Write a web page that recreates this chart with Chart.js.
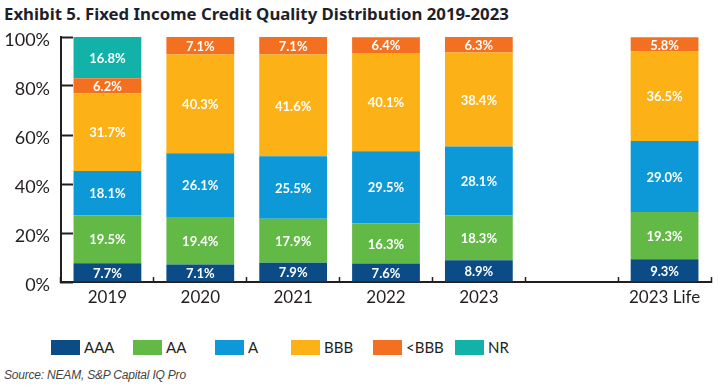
<!DOCTYPE html>
<html>
<head>
<meta charset="utf-8">
<script src="https://cdn.jsdelivr.net/npm/chart.js@4.4.1/dist/chart.umd.min.js"></script>
<style>
  body { margin: 0; background: #fff; font-family: Lato, 'Noto Sans', sans-serif; }
  #wrap { position: relative; width: 723px; height: 388px; overflow: hidden; }
  #title { position: absolute; left: 4px; top: 2px; font-family: 'Noto Sans', sans-serif; font-size: 16.8px; font-weight: bold; color: #1f1f2b; white-space: nowrap; }
  #chartBox { position: absolute; left: 0; top: 0; width: 723px; height: 320px; }
  #legend { position: absolute; left: 51px; top: 338px; display: flex; }
  .item { width: 82px; display: flex; align-items: center; font-size: 15px; color: #231f20; }
  .item:nth-child(3) { width: 76px; }
  .swatch { width: 29px; height: 15px; margin-right: 4px; }
  #source { position: absolute; left: 4px; top: 368px; font-family: 'Liberation Sans Narrow', sans-serif; font-size: 12px; letter-spacing: -0.2px; font-style: italic; color: #444; }
</style>
</head>
<body>
<div id="wrap">
  <div id="title">Exhibit 5. Fixed Income Credit Quality Distribution 2019-2023</div>
  <div id="chartBox"><canvas id="qualityChart"></canvas></div>
  <div id="legend"></div>
  <div id="source">Source: NEAM, S&amp;P Capital IQ Pro</div>
</div>
<script>
const years = ['2019', '2020', '2021', '2022', '2023', '', '2023 Life'];
const yTicks = [0, 20, 40, 60, 80, 100];

const aaa   = [7.7, 7.1, 7.9, 7.6, 8.9, null, 9.3];
const aa    = [19.5, 19.4, 17.9, 16.3, 18.3, null, 19.3];
const singleA = [18.1, 26.1, 25.5, 29.5, 28.1, null, 29.0];
const bbb   = [31.7, 40.3, 41.6, 40.1, 38.4, null, 36.5];
const belowBbb = [6.2, 7.1, 7.1, 6.4, 6.3, null, 5.8];
const nr    = [16.8, null, null, null, null, null, null];

const series = [
    { label: 'AAA',  data: aaa,      color: '#0b4c87' },
    { label: 'AA',   data: aa,       color: '#63b946' },
    { label: 'A',    data: singleA,  color: '#0d98d8' },
    { label: 'BBB',  data: bbb,      color: '#fcb116' },
    { label: '<BBB', data: belowBbb, color: '#f37021' },
    { label: 'NR',   data: nr,       color: '#12b2a9' }
];

// white value labels in the middle of each segment
const segmentLabels = {
    id: 'segmentLabels',
    afterDatasetsDraw(chart) {
        const c = chart.ctx;
        c.save();
        c.fillStyle = '#ffffff';
        c.font = 'bold 13px Lato, "Noto Sans", sans-serif';
        c.textAlign = 'center';
        c.textBaseline = 'middle';
        chart.data.datasets.forEach((ds, i) => {
            chart.getDatasetMeta(i).data.forEach((bar, j) => {
                const v = ds.data[j];
                if (!v) return;
                c.fillText(v.toFixed(1) + '%', bar.x, (bar.y + bar.base) / 2 + 1);
            });
        });
        c.restore();
    }
};

const ctx = document.getElementById('qualityChart').getContext('2d');
const qualityChart = new Chart(ctx, {
    type: 'bar',
    data: {
        labels: years,
        datasets: series.map(s => ({
            label: s.label,
            data: s.data,
            backgroundColor: s.color,
            borderWidth: 0,
            categoryPercentage: 1,
            barPercentage: 0.73
        }))
    },
    options: {
        responsive: true,
        maintainAspectRatio: false,
        animation: false,
        layout: { padding: { top: 37, right: 12, left: 0, bottom: 0 } },
        plugins: {
            legend: { display: false },
            tooltip: { enabled: false }
        },
        scales: {
            x: {
                stacked: true,
                afterFit: s => { s.height = 38; },
                grid: {
                    offset: true,
                    drawOnChartArea: false,
                    tickLength: -5,
                    tickWidth: 1.5,
                    color: '#231f20'
                },
                border: { display: true, color: '#231f20', width: 2 },
                ticks: {
                    color: '#231f20',
                    padding: 10,
                    font: { family: 'Lato, "Noto Sans", sans-serif', size: 17 }
                }
            },
            y: {
                stacked: true,
                min: 0,
                max: 100,
                afterFit: s => { s.width = 61; },
                afterBuildTicks: s => { s.ticks = yTicks.map(v => ({ value: v })); },
                grid: {
                    drawOnChartArea: false,
                    tickLength: -12,
                    tickWidth: 2,
                    color: '#231f20'
                },
                border: { display: true, color: '#231f20', width: 2 },
                ticks: {
                    color: '#231f20',
                    padding: 23,
                    labelOffset: 3,
                    font: { family: 'Lato, "Noto Sans", sans-serif', size: 18 },
                    callback: v => v + '%'
                }
            }
        }
    },
    plugins: [segmentLabels]
});

// legend row
const legend = document.getElementById('legend');
series.forEach(s => {
    const item = document.createElement('div');
    item.className = 'item';
    const sw = document.createElement('span');
    sw.className = 'swatch';
    sw.style.background = s.color;
    const txt = document.createElement('span');
    txt.textContent = s.label;
    item.appendChild(sw);
    item.appendChild(txt);
    legend.appendChild(item);
});
</script>
</body>
</html>
